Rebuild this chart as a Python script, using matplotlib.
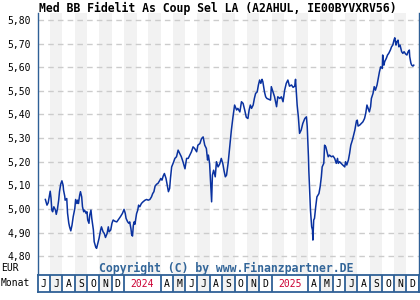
import matplotlib
matplotlib.use("Agg")
import matplotlib.pyplot as plt
import pandas as pd

# price series: days since 2023-06-01 and value in EUR
start = pd.Timestamp("2023-06-01")
days = [19, 23, 26, 29, 31, 33, 35, 37, 40, 44, 46, 49, 52, 54, 57, 60, 63, 64, 67, 68,
        72, 74, 77, 79, 82, 85, 88, 92, 94, 97, 99, 101, 104, 106, 109, 111, 114, 116, 120, 122,
        124, 127, 129, 132, 134, 138, 140, 144, 146, 149, 152, 156, 158, 162, 165, 168, 172, 175, 177, 181,
        184, 187, 191, 196, 200, 205, 210, 214, 217, 219, 223, 226, 228, 231, 233, 235, 237, 239, 241, 245,
        248, 250, 253, 257, 261, 266, 270, 274, 278, 282, 285, 288, 291, 295, 298, 303, 305, 308, 311, 314,
        318, 321, 324, 327, 329, 332, 336, 340, 344, 348, 352, 356, 360, 365, 369, 373, 377, 381, 385, 389,
        394, 397, 402, 406, 410, 414, 418, 421, 423, 426, 429, 431, 433, 436, 440, 443, 447, 451, 455, 459,
        462, 465, 468, 472, 476, 480, 484, 488, 493, 496, 501, 505, 509, 513, 517, 521, 524, 527, 530, 534,
        537, 540, 544, 547, 550, 553, 556, 558, 562, 565, 568, 573, 577, 579, 583, 587, 592, 595, 600, 604,
        608, 612, 616, 620, 624, 629, 633, 637, 639, 643, 646, 649, 653, 657, 662, 666, 668, 671, 672, 674,
        676, 679, 681, 682, 684, 686, 689, 692, 697, 700, 703, 705, 709, 711, 714, 717, 720, 723, 728, 732,
        736, 740, 743, 745, 748, 752, 756, 761, 763, 766, 770, 773, 776, 780, 783, 786, 790, 792, 794, 798,
        802, 806, 810, 813, 816, 819, 822, 825, 827, 831, 834, 837, 841, 844, 847, 850, 854, 855, 858, 860,
        864, 867, 870, 874, 877, 880, 883, 885, 888, 890, 893, 895, 898, 902, 905, 908, 912, 915, 918, 921,
        922, 925, 927, 930, 932]
prices = [5.040, 5.016, 5.026, 5.054, 5.075, 5.046, 4.995, 4.988, 5.009, 4.995, 4.977, 5.000, 5.037, 5.073, 5.105, 5.119, 5.100, 5.080, 5.054, 5.037,
          5.044, 4.982, 4.940, 4.924, 4.907, 4.931, 4.967, 5.002, 5.040, 5.023, 5.037, 5.023, 5.058, 5.073, 5.051, 5.009, 4.988, 4.995, 4.981, 4.988,
          4.953, 4.939, 4.974, 4.995, 4.960, 4.911, 4.861, 4.837, 4.833, 4.854, 4.875, 4.911, 4.924, 4.903, 4.896, 4.879, 4.896, 4.924, 4.903, 4.911,
          4.939, 4.953, 4.948, 4.945, 4.955, 4.967, 4.981, 4.998, 4.981, 4.960, 4.945, 4.939, 4.945, 4.917, 4.890, 4.885, 4.930, 4.945, 4.935, 4.980,
          4.995, 5.016, 5.009, 5.023, 5.030, 5.037, 5.040, 5.037, 5.040, 5.051, 5.065, 5.073, 5.097, 5.105, 5.108, 5.122, 5.129, 5.122, 5.139, 5.150,
          5.129, 5.100, 5.073, 5.087, 5.129, 5.178, 5.195, 5.214, 5.221, 5.249, 5.235, 5.221, 5.200, 5.170, 5.214, 5.214, 5.228, 5.242, 5.263, 5.256,
          5.242, 5.270, 5.277, 5.298, 5.305, 5.270, 5.256, 5.207, 5.228, 5.193, 5.100, 5.030, 5.143, 5.164, 5.136, 5.200, 5.178, 5.190, 5.214, 5.190,
          5.160, 5.136, 5.143, 5.195, 5.263, 5.334, 5.390, 5.440, 5.419, 5.426, 5.411, 5.454, 5.447, 5.419, 5.388, 5.383, 5.419, 5.440, 5.426, 5.440,
          5.468, 5.489, 5.496, 5.525, 5.546, 5.532, 5.549, 5.539, 5.496, 5.475, 5.468, 5.464, 5.461, 5.518, 5.496, 5.475, 5.433, 5.475, 5.468, 5.475,
          5.454, 5.503, 5.532, 5.546, 5.520, 5.525, 5.515, 5.520, 5.549, 5.440, 5.390, 5.320, 5.334, 5.362, 5.383, 5.390, 5.348, 5.221, 5.160, 5.080,
          4.995, 4.924, 4.911, 4.868, 4.953, 4.960, 5.009, 5.051, 5.065, 5.094, 5.136, 5.178, 5.193, 5.270, 5.263, 5.242, 5.221, 5.228, 5.221, 5.224,
          5.214, 5.193, 5.214, 5.193, 5.200, 5.193, 5.186, 5.178, 5.200, 5.186, 5.207, 5.235, 5.270, 5.292, 5.313, 5.334, 5.373, 5.376, 5.351, 5.355,
          5.362, 5.369, 5.383, 5.405, 5.440, 5.426, 5.411, 5.433, 5.468, 5.489, 5.518, 5.503, 5.525, 5.553, 5.581, 5.602, 5.595, 5.652, 5.609, 5.624,
          5.638, 5.652, 5.659, 5.673, 5.687, 5.694, 5.715, 5.725, 5.694, 5.708, 5.715, 5.687, 5.694, 5.666, 5.659, 5.666, 5.656, 5.652, 5.666, 5.673,
          5.645, 5.617, 5.609, 5.605, 5.609]

yticks = [4.80, 4.90, 5.00, 5.10, 5.20, 5.30, 5.40, 5.50, 5.60, 5.70, 5.80]
month_letters = ["J", "F", "M", "A", "M", "J", "J", "A", "S", "O", "N", "D"]
title = "Med BB Fidelit As Coup Sel LA (A2AHUL, IE00BYVXRV56)"

frame_col = "#2f6096"
line_col = "#0a32a0"
mono = "DejaVu Sans Mono"

dates = [start + pd.Timedelta(days=d) for d in days]
x_start = pd.Timestamp("2023-06-01")
x_end = pd.Timestamp("2026-01-01")
months = pd.date_range(x_start, x_end, freq="MS")

fig = plt.figure(figsize=(4.2, 3.0), dpi=100)
ax = fig.add_axes([37.7 / 420, 25 / 300, (419 - 37.7) / 420, 262 / 300])
axm = fig.add_axes([37.7 / 420, 8 / 300, (419 - 37.7) / 420, 17 / 300])

# alternating month shading
for i in range(len(months) - 1):
    if months[i].month % 2 == 1:
        ax.axvspan(months[i], months[i + 1], color="#f2f2f2", lw=0, zorder=0)

for v in yticks:
    ax.axhline(v, color="#cccccc", lw=1.0, ls=(0, (4, 3)), zorder=1)

ax.plot(dates, prices, color=line_col, lw=1.1, zorder=3)

ax.set_xlim(x_start, x_end)
ax.set_ylim(4.72, 5.83)
ax.set_yticks(yticks)
ax.set_yticklabels([f"{v:.2f}".replace(".", ",") for v in yticks], family=mono, fontsize=7)
ax.tick_params(axis="y", length=0, pad=5)
ax.set_xticks([])
for s in ax.spines.values():
    s.set_color(frame_col)
    s.set_linewidth(1.0)
ax.spines["bottom"].set_visible(False)
ax.spines["top"].set_visible(False)

# month row
axm.set_xlim(x_start, x_end)
axm.set_ylim(0, 1)
axm.set_xticks([])
axm.set_yticks([])
for s in axm.spines.values():
    s.set_color(frame_col)
    s.set_linewidth(1.3)
for i in range(len(months) - 1):
    m0, m1 = months[i], months[i + 1]
    if m0.month in (2, 3):
        continue
    if m0.month == 1:
        m1 = months[i + 3]
        axm.axvline(m1, color=frame_col, lw=1.3)
        axm.text(m0 + (m1 - m0) / 2, 0.45, str(m0.year), ha="center", va="center",
                 family=mono, fontsize=7, color="#cc0033")
        continue
    if m0.month % 2 == 1:
        axm.axvspan(m0, m1, color="#f2f2f2", lw=0, zorder=0)
    axm.axvline(m1, color=frame_col, lw=1.3)
    axm.text(m0 + (m1 - m0) / 2, 0.45, month_letters[m0.month - 1], ha="center", va="center",
             family=mono, fontsize=7, color="black")

fig.text(217.5 / 420, 1 - 8 / 300, title, ha="center", va="center",
         family=mono, fontsize=8.3, fontweight="bold")
fig.text(1 / 420, 1 - 268 / 300, "EUR", ha="left", va="center", family=mono, fontsize=7)
fig.text(1 / 420, 1 - 283.5 / 300, "Monat", ha="left", va="center", family=mono, fontsize=7)
fig.text(226.5 / 420, 1 - 268 / 300, "Copyright (C) by www.Finanzpartner.DE", ha="center",
         va="center", family=mono, fontsize=8.3, fontweight="bold", color="#336699")

fig.savefig("out.png", dpi=100)
